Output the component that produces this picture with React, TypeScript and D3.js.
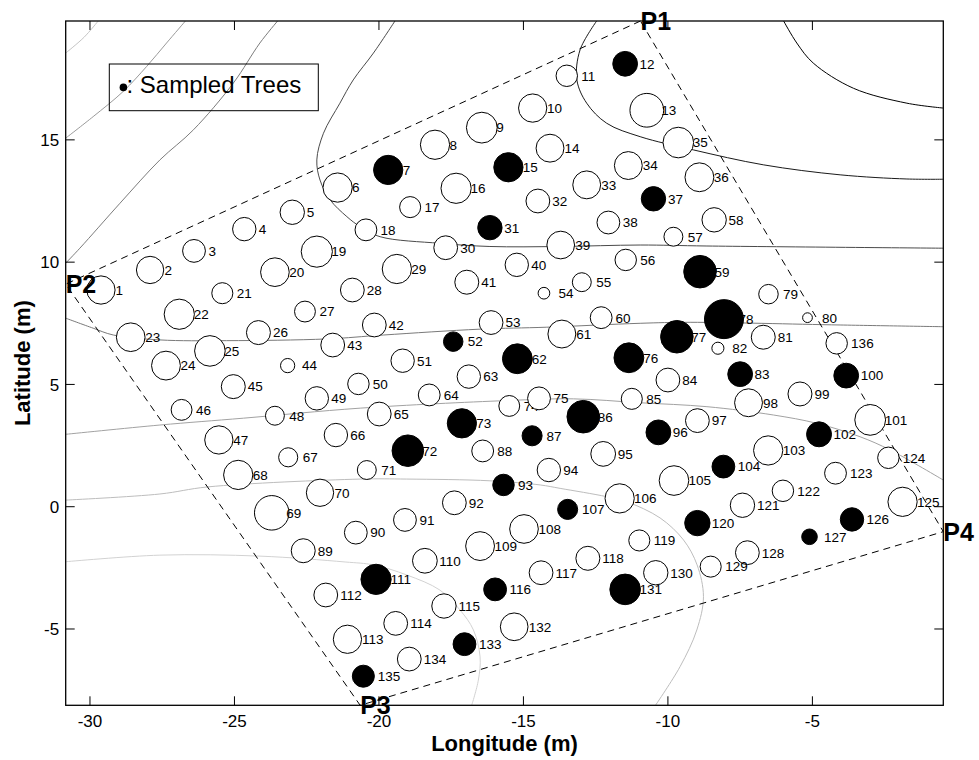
import React from "react";
import * as d3 from "d3";

// ---------- data ----------
const xLim: [number, number] = [-30.84, -0.47];
const yLim: [number, number] = [-8.12, 19.86];
const xTicks = [-30, -25, -20, -15, -10, -5];
const yTicks = [-5, 0, 5, 10, 15];

const treeX = [
  -29.62, -27.92, -26.40, -24.66, -23.00, -21.43, -19.68, -18.06, -16.44, -14.68,
  -13.50, -11.48, -10.73, -14.08, -15.52, -17.33, -18.92, -20.45, -22.15, -23.60,
  -25.42, -26.91, -28.59, -27.37, -25.85, -24.17, -22.56, -20.92, -19.38, -17.69,
  -16.16, -14.50, -12.81, -11.37, -9.64, -8.91, -10.50, -12.06, -13.71, -15.23,
  -16.96, -20.16, -21.60, -23.16, -25.04, -26.83, -25.54, -23.60, -22.15, -20.71,
  -19.18, -17.43, -16.12, -14.29, -12.98, -11.46, -9.81, -8.40, -8.89, -12.31,
  -13.67, -15.21, -16.89, -18.26, -19.99, -21.49, -23.14, -24.87, -23.71, -22.04,
  -20.42, -19.00, -17.13, -15.49, -14.46, -11.35, -9.69, -8.06, -6.52, -5.17,
  -6.70, -8.27, -7.50, -10.00, -11.25, -12.93, -14.70, -16.41, -22.62, -20.80,
  -19.10, -17.39, -15.69, -14.12, -12.24, -10.33, -8.98, -7.21, -5.43, -3.83,
  -3.00, -4.77, -6.53, -8.08, -9.79, -11.67, -13.47, -14.98, -16.50, -18.41,
  -20.10, -21.84, -21.09, -19.42, -17.75, -15.98, -14.39, -12.77, -10.99, -8.98,
  -7.42, -6.02, -4.20, -2.37, -1.88, -3.63, -5.10, -7.25, -8.52, -10.42,
  -11.48, -15.32, -17.04, -18.95, -20.54, -4.16,
];
const treeY = [
  8.86, 9.68, 10.46, 11.35, 12.04, 13.05, 13.77, 14.80, 15.50, 16.30,
  17.62, 18.11, 16.21, 14.66, 13.88, 13.02, 12.25, 11.32, 10.43, 9.59,
  8.73, 7.87, 6.93, 5.77, 6.37, 7.12, 7.98, 8.86, 9.72, 10.59,
  11.41, 12.50, 13.16, 13.95, 14.89, 13.47, 12.59, 11.62, 10.70, 9.89,
  9.18, 7.43, 6.61, 5.77, 4.91, 3.96, 2.73, 3.72, 4.43, 5.02,
  5.97, 6.75, 7.53, 8.73, 9.18, 10.09, 11.04, 11.73, 9.61, 7.73,
  7.06, 6.05, 5.32, 4.57, 3.79, 2.93, 2.02, 1.30, -0.25, 0.57,
  1.50, 2.29, 3.41, 4.12, 4.43, 6.09, 6.95, 7.67, 8.69, 7.73,
  6.93, 6.48, 5.42, 5.18, 4.41, 3.68, 2.90, 2.28, -1.80, -1.06,
  -0.54, 0.16, 0.89, 1.50, 2.16, 3.04, 3.52, 4.25, 4.61, 5.36,
  3.55, 2.96, 2.30, 1.64, 1.07, 0.34, -0.11, -0.91, -1.61, -2.21,
  -2.97, -3.61, -5.42, -4.77, -4.06, -3.38, -2.70, -2.11, -1.38, -0.67,
  0.06, 0.65, 1.37, 2.00, 0.20, -0.52, -1.23, -1.88, -2.45, -2.70,
  -3.38, -4.91, -5.62, -6.23, -6.93, 6.68,
];
const treeDbh = [
  29, 28, 23.4, 24, 25, 30, 30, 30, 31.6, 29,
  22, 25.4, 34.6, 28.6, 30, 31, 21.6, 22.4, 32, 29.4,
  21.6, 31, 29.4, 29.6, 31.4, 24.6, 21.4, 24.4, 30, 24.4,
  25, 24.4, 28.6, 28.6, 31.4, 29.6, 25, 23.4, 28.4, 24,
  24.6, 24.4, 24.4, 14.6, 24.6, 21.4, 29, 19.4, 24, 22,
  24, 20, 24.4, 12, 19.4, 22, 19.4, 25, 33.4, 22.4,
  28.6, 30.6, 24, 22.4, 24.4, 24, 19.6, 30, 35.4, 28,
  19.4, 32.4, 30, 21.4, 23.4, 30.6, 33.4, 40, 20, 10,
  24.6, 12.4, 25.4, 24.4, 21.6, 33.4, 20.6, 22.4, 24.6, 23.4,
  23.4, 24.4, 22, 24, 25.4, 25.4, 24.4, 28.6, 24.6, 25.4,
  31.6, 25.6, 30, 23.4, 30.4, 30, 20.6, 29.4, 29.6, 25.4,
  31, 24.4, 29, 24.4, 25, 23.4, 24.4, 24.6, 21.6, 26,
  25, 22, 22.4, 22, 30, 24, 16, 24.4, 21.6, 25,
  31.4, 28.4, 23.4, 24.4, 22.6, 22,
];
const sampledIds = [
  7, 12, 15, 31, 37, 52, 59, 62, 72, 73, 76, 77, 78, 83, 86,
  87, 93, 96, 100, 102, 104, 107, 111, 116, 120, 126, 127, 131, 133, 135,
];

const cornerNames = ["P1", "P2", "P3", "P4"];
const cornerX = [-10.95, -30.84, -20.65, -0.47];
const cornerY = [19.86, 9.1, -8.12, -1.02];

// contour lines [x, y] in metres
const contourA: [number, number][] = [[-30.84, 18.55], [-30.2, 19.2], [-29.71, 19.87]];
const contourB: [number, number][] = [
  [-30.84, 15.07], [-29.89, 15.95], [-28.85, 16.98], [-28.04, 18.0], [-27.35, 18.96], [-26.69, 19.87],
];
const contourC: [number, number][] = [
  [-30.84, 9.96], [-30.35, 10.57], [-28.96, 12.41], [-27.58, 14.18], [-26.42, 15.41],
  [-25.04, 17.32], [-24.12, 18.96], [-23.5, 19.87],
];
const contourD: [number, number][] = [
  [-19.44, 19.87], [-20.19, 18.55], [-20.89, 17.45], [-21.35, 16.5], [-21.92, 15.27],
  [-22.15, 14.18], [-22.04, 13.36], [-21.69, 12.55], [-21.11, 11.86], [-20.65, 11.45],
  [-19.96, 11.04], [-17.89, 10.77], [-16.16, 10.64], [-13.73, 10.64], [-10.96, 10.7],
  [-8.65, 10.66], [-0.47, 10.57],
];
const contourE: [number, number][] = [
  [-12.46, 19.87], [-13.04, 18.68], [-13.15, 17.45], [-12.81, 16.5], [-12.12, 15.68],
  [-10.96, 15.13], [-9.12, 14.59], [-6.7, 13.98], [-4.04, 13.57], [-1.73, 13.4], [-0.47, 13.39],
];
const contourF: [number, number][] = [
  [-6.0, 19.87], [-5.54, 18.96], [-4.97, 18.14], [-3.58, 17.11], [-1.73, 16.5], [-0.47, 16.3],
];
const contourG: [number, number][] = [
  [-30.84, 7.71], [-29.89, 7.3], [-29.19, 7.02], [-27.58, 6.82], [-25.27, 6.79],
  [-21.81, 6.86], [-19.85, 7.02], [-16.5, 7.26], [-14.19, 7.34], [-10.96, 7.5],
  [-9.23, 7.54], [-4.04, 7.43], [-0.47, 7.36],
];
const contourH: [number, number][] = [
  [-30.84, 2.96], [-27.58, 3.34], [-24.69, 3.62], [-20.65, 4.03], [-15.58, 4.34],
  [-13.27, 4.41], [-10.96, 4.25], [-8.65, 4.09], [-6.35, 3.75], [-4.85, 3.41],
  [-3.35, 2.86], [-2.31, 2.32], [-0.47, 1.09],
];
const contourI: [number, number][] = [
  [-30.84, 0.27], [-27.58, 0.52], [-25.92, 0.81], [-20.65, 1.13], [-19.04, 1.13],
  [-16.16, 1.06], [-14.42, 0.89], [-13.73, 0.75], [-12.12, 0.41], [-11.42, 0.2],
  [-10.27, -0.46], [-9.46, -1.36], [-8.99, -2.38], [-8.77, -3.68], [-9.0, -5.04],
  [-9.58, -6.54], [-10.43, -8.12],
];
const contourJ: [number, number][] = [
  [-30.84, -2.25], [-27.58, -1.98], [-24.12, -2.02], [-21.17, -2.26], [-20.19, -2.38],
  [-19.04, -2.79], [-17.89, -3.41], [-17.19, -4.23], [-16.73, -5.04], [-16.5, -6.14],
  [-16.56, -7.09], [-16.79, -8.12],
];
const contours = [contourA, contourB, contourC, contourD, contourE, contourF, contourG, contourH, contourI, contourJ];
const contourColors = ["#c4c4c4", "#9a9a9a", "#7c7c7c", "#4a4a4a", "#1a1a1a", "#000000", "#7a7a7a", "#a2a2a2", "#bdbdbd", "#d2d2d2"];

// ---------- layout ----------
const W = 979;
const H = 760;
const M = { left: 65.7, top: 21, right: 35.7, bottom: 54.7 };
const FONT = "'Liberation Sans', Arial, Helvetica, sans-serif";

export default function App() {
  const x = d3.scaleLinear().domain(xLim).range([M.left, W - M.right]);
  const y = d3.scaleLinear().domain(yLim).range([H - M.bottom, M.top]);
  const r = d3.scaleLinear().domain([0, 40]).range([0, 19.5]);
  const line = d3
    .line<[number, number]>()
    .x((d) => x(d[0]))
    .y((d) => y(d[1]))
    .curve(d3.curveCatmullRom.alpha(0.5));

  const x0 = M.left, x1 = W - M.right, y0 = M.top, y1 = H - M.bottom;
  const tl = 9;
  const sampled = new Set(sampledIds);
  const trees = treeX.map((tx, i) => ({ id: i + 1, x: tx, y: treeY[i], d: treeDbh[i] }));

  const poly = [0, 1, 2, 3, 0];
  const boundary = d3.line<number>().x((i) => x(cornerX[i])).y((i) => y(cornerY[i]))(poly) || "";

  return (
    <svg width={W} height={H} style={{ position: "absolute", left: 0, top: 0, display: "block", background: "#fff" }} fontFamily={FONT}>
      <rect x={0} y={0} width={W} height={H} fill="#fff" />
      <defs>
        <clipPath id="plotclip">
          <rect x={x0} y={y0} width={x1 - x0} height={y1 - y0} />
        </clipPath>
      </defs>
      <g clipPath="url(#plotclip)">
        {contours.map((c, i) => (
          <path key={i} d={line(c) || ""} fill="none" stroke={contourColors[i]} strokeWidth={1} />
        ))}
      </g>
      <path d={boundary} fill="none" stroke="#000" strokeWidth={1} strokeDasharray="7,5" />

      {trees.map((t) => {
        const filled = sampled.has(t.id);
        return (
          <g key={t.id}>
            <circle cx={x(t.x)} cy={y(t.y)} r={r(t.d)} fill={filled ? "#000" : "#fff"} stroke="#000" strokeWidth={1} />
            <text x={x(t.x + 0.5)} y={y(t.y)} dy="0.36em" fontSize={13.5} fill="#000">
              {t.id}
            </text>
          </g>
        );
      })}

      {/* axes box */}
      <rect x={x0} y={y0} width={x1 - x0} height={y1 - y0} fill="none" stroke="#000" strokeWidth={1.3} />
      {xTicks.map((t) => (
        <g key={"xt" + t}>
          <line x1={x(t)} x2={x(t)} y1={y1} y2={y1 - tl} stroke="#000" />
          <line x1={x(t)} x2={x(t)} y1={y0} y2={y0 + tl} stroke="#000" />
          <text x={x(t)} y={y1 + 21.4} textAnchor="middle" fontSize={17}>
            {t}
          </text>
        </g>
      ))}
      {yTicks.map((t) => (
        <g key={"yt" + t}>
          <line x1={x0} x2={x0 + tl} y1={y(t)} y2={y(t)} stroke="#000" />
          <line x1={x1} x2={x1 - tl} y1={y(t)} y2={y(t)} stroke="#000" />
          <text x={x0 - 6.5} y={y(t)} dy="0.36em" textAnchor="end" fontSize={17}>
            {t}
          </text>
        </g>
      ))}

      {/* corner labels */}
      {cornerNames.map((n, i) => (
        <text key={n} x={x(cornerX[i])} y={y(cornerY[i])} dy="0.36em" fontSize={25} fontWeight="bold">
          {n}
        </text>
      ))}

      {/* legend */}
      <rect x={109.3} y={64} width={209} height={46.7} fill="none" stroke="#000" strokeWidth={1} />
      <circle cx={123.4} cy={87.4} r={3.8} fill="#000" />
      <text x={126.5} y={93.3} fontSize={24}>
        : Sampled Trees
      </text>

      {/* axis titles */}
      <text x={(x0 + x1) / 2} y={751} textAnchor="middle" fontSize={22} fontWeight="bold">
        Longitude (m)
      </text>
      <text transform={`translate(30,${(y0 + y1) / 2}) rotate(-90)`} textAnchor="middle" fontSize={22} fontWeight="bold">
        Latitude (m)
      </text>
    </svg>
  );
}
